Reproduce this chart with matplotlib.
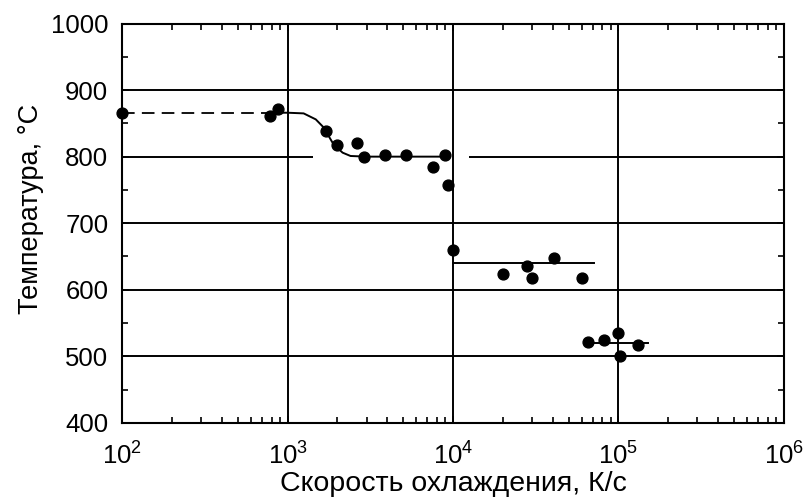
import matplotlib
matplotlib.use("Agg")
import matplotlib.pyplot as plt
from matplotlib.ticker import LogLocator, MultipleLocator, NullFormatter

plt.rcParams['font.family'] = ['Liberation Sans', 'DejaVu Sans']
plt.rcParams['mathtext.fontset'] = 'custom'
plt.rcParams['mathtext.rm'] = 'Liberation Sans'
plt.rcParams['mathtext.it'] = 'Liberation Sans:italic'

# measured points: cooling rate (K/s) and temperature (°C)
rate = [100, 780, 870, 1700, 1990, 2630, 2900, 3900, 5200, 7600, 8900, 9300,
        10000, 20000, 28000, 30000, 41000, 60000,
        65000, 82000, 100000, 102000, 132000]
temp = [865, 861, 871, 838, 817, 820, 800, 802, 802, 784, 802, 758,
        659, 624, 636, 617, 647, 618,
        522, 525, 535, 501, 517]

# dashed extrapolation
dash_x = [100, 780]
dash_y = [865, 865]
# solid curve
curve_x = [780, 1000, 1250, 1480, 1650, 1900, 2150, 2400, 3000, 8800]
curve_y = [866, 866, 865, 856, 844, 818, 806, 801, 800, 800]
# plateaus
plat1_x = [10000, 71000]
plat1_y = [640, 640]
plat2_x = [66000, 150000]
plat2_y = [520, 520]

# grid
hgrid = [500, 600, 700, 900]
vgrid = [1e3, 1e4, 1e5]
grid800_segments = [(100, 1420), (12500, 1e6)]

fig = plt.figure(figsize=(8.09, 5.01), dpi=100)
ax = fig.add_axes([0.151, 0.156, 0.818, 0.797])
ax.set_xscale('log')
ax.set_xlim(100, 1e6)
ax.set_ylim(400, 1000)

lw_grid = 1.4
for y in hgrid:
    ax.axhline(y, color='black', lw=lw_grid, zorder=1)
for x in vgrid:
    ax.axvline(x, color='black', lw=lw_grid, zorder=1)
for a, b in grid800_segments:
    ax.hlines(800, a, b, color='black', lw=lw_grid, zorder=1)

ax.plot(dash_x, dash_y, color='black', lw=1.3, ls=(0, (7, 4)), zorder=2)
ax.plot(curve_x, curve_y, color='black', lw=1.4, zorder=2)
ax.plot(plat1_x, plat1_y, color='black', lw=1.4, zorder=2)
ax.plot(plat2_x, plat2_y, color='black', lw=1.4, zorder=2)
ax.plot(rate, temp, 'o', color='black', ms=7.8, zorder=3, clip_on=False)

ax.yaxis.set_major_locator(MultipleLocator(100))
ax.yaxis.set_minor_locator(MultipleLocator(50))
ax.xaxis.set_major_locator(LogLocator(base=10, numticks=10))
ax.xaxis.set_minor_locator(LogLocator(base=10, subs=range(2, 10), numticks=20))
ax.xaxis.set_minor_formatter(NullFormatter())

ax.tick_params(which='both', direction='in', top=True, right=True, labelsize=18.5, width=1.2)
ax.tick_params(which='major', length=5)
ax.tick_params(which='minor', length=4)
ax.tick_params(axis='x', which='major', pad=14)
ax.tick_params(axis='y', which='major', pad=10)

for s in ax.spines.values():
    s.set_linewidth(1.5)

ax.set_xlabel('Скорость охлаждения, К/с', fontsize=20.5, labelpad=1)
ax.set_ylabel('Температура, °C', fontsize=19.5)
ax.yaxis.set_label_coords(-0.118, 0.535)

fig.savefig('out.png', dpi=100)
